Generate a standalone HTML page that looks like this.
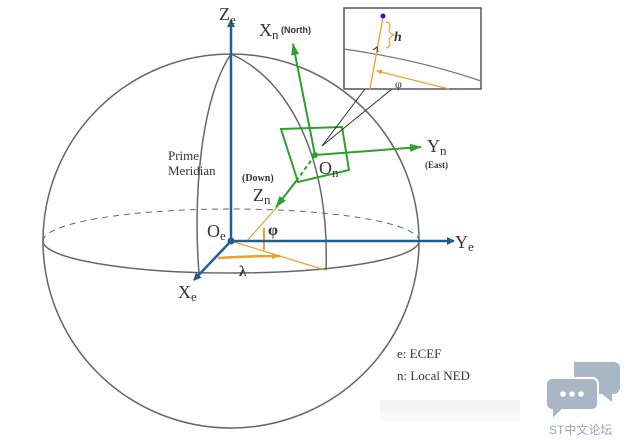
<!DOCTYPE html><html><head><style>body{margin:0;background:#fff}svg{display:block}text{font-family:"Liberation Serif",serif;fill:#333}</style></head><body>
<svg width="626" height="441" viewBox="0 0 626 441">
<defs>
<marker id="b" markerWidth="8" markerHeight="8" refX="7" refY="4" orient="auto" markerUnits="userSpaceOnUse"><path d="M0,0L8,4L0,8z" fill="#1f6090"/></marker>
<marker id="g" markerWidth="12" markerHeight="8" refX="11" refY="4" orient="auto" markerUnits="userSpaceOnUse"><path d="M0,0L12,4L0,8z" fill="#2ca02c"/></marker>
<marker id="o" markerWidth="9" markerHeight="6" refX="8" refY="3" orient="auto" markerUnits="userSpaceOnUse"><path d="M0,0L9,3L0,6z" fill="#e8a030"/></marker>
<marker id="o2" markerWidth="6" markerHeight="5" refX="5" refY="2.5" orient="auto" markerUnits="userSpaceOnUse"><path d="M0,0L6,2.5L0,5z" fill="#e8a030"/></marker>
</defs>
<g fill="none" stroke="#666" stroke-width="1.5">
<ellipse cx="231" cy="241" rx="188" ry="187"/>
<path d="M43,241 A188,32 0 0 0 419,241"/>
<path d="M43,241 A188,32 0 0 1 419,241" stroke-dasharray="6,5" stroke-width="1"/>
<path d="M231,54 C200,100 193,200 199,273"/>
<path d="M231,54 C290,80 330,160 326,270"/>
</g>
<g stroke="#e8a030" fill="none">
<line x1="231" y1="241" x2="325" y2="270" stroke-width="1.2"/>
<line x1="246" y1="242" x2="278" y2="206" stroke-width="1.2"/>
<line x1="264" y1="228" x2="264" y2="250" stroke-width="2"/>
<path d="M218,258 Q250,256 280,256" stroke-width="2.5" marker-end="url(#o)"/>
</g>
<g stroke="#1f6090" stroke-width="2.5">
<line x1="231" y1="241" x2="231" y2="20" marker-end="url(#b)"/>
<line x1="231" y1="241" x2="454" y2="241" marker-end="url(#b)"/>
<line x1="231" y1="241" x2="194" y2="280" marker-end="url(#b)"/>
</g>
<circle cx="231" cy="241" r="3.5" fill="#1f6090"/>
<g stroke="#2ca02c" stroke-width="2" fill="none">
<path d="M281,129 L342,127 L349,170 L298,182 Z"/>
<line x1="315" y1="155" x2="293" y2="44" marker-end="url(#g)"/>
<line x1="315" y1="155" x2="421" y2="147" marker-end="url(#g)"/>
<line x1="315" y1="155" x2="297" y2="180" stroke-dasharray="4,3"/>
<line x1="297" y1="180" x2="276" y2="207" marker-end="url(#g)"/>
</g>
<circle cx="315" cy="155" r="3" fill="#2ca02c"/>
<g stroke="#333" stroke-width="1" fill="none">
<path d="M365,89 L322,146 L392,89"/>
</g>
<rect x="344" y="8" width="137" height="81" fill="#fff" stroke="#555" stroke-width="1.5"/>
<path d="M344,49 Q420,60 481,81" stroke="#777" fill="none" stroke-width="1.2"/>
<line x1="383" y1="17" x2="370" y2="89" stroke="#e8a030" stroke-width="1.3"/>
<line x1="449" y1="89" x2="377" y2="71" stroke="#e8a030" stroke-width="1.2" marker-end="url(#o2)"/>
<path d="M386,22 Q392,22 389,30 Q389,33 394,35 Q389,37 389,40 Q392,47 386,48" stroke="#e8a030" fill="none" stroke-width="1.2"/>
<path d="M373,50 L377,47 L378,52" stroke="#333" fill="none" stroke-width="1"/>
<circle cx="383" cy="16" r="2.5" fill="#1520d0"/>
<text x="394" y="41" font-size="14" font-style="italic" font-weight="bold">h</text>
<text x="395" y="88" font-size="12">φ</text>
<text x="219" y="20" font-size="18">Z<tspan font-size="13" dy="4">e</tspan></text>
<text x="259" y="36" font-size="18">X<tspan font-size="13" dy="3">n</tspan><tspan font-family="Liberation Sans" font-size="9" font-weight="bold" dy="-6"> (North)</tspan></text>
<text x="427" y="152" font-size="18">Y<tspan font-size="13" dy="3">n</tspan></text>
<text x="425" y="168" font-size="9" font-weight="bold" font-family="Liberation Sans">(East)</text>
<text x="319" y="174" font-size="18">O<tspan font-size="13" dy="3">n</tspan></text>
<text x="242" y="181" font-size="10" font-weight="bold">(Down)</text>
<text x="253" y="201" font-size="18">Z<tspan font-size="13" dy="3">n</tspan></text>
<text x="168" y="160" font-size="13">Prime</text>
<text x="168" y="175" font-size="13">Meridian</text>
<text x="207" y="237" font-size="18">O<tspan font-size="13" dy="3">e</tspan></text>
<text x="268" y="235" font-size="16" font-weight="bold">φ</text>
<text x="455" y="248" font-size="18">Y<tspan font-size="13" dy="3">e</tspan></text>
<text x="178" y="298" font-size="18">X<tspan font-size="13" dy="3">e</tspan></text>
<text x="239" y="276" font-size="15" font-weight="bold">λ</text>
<text x="397" y="358" font-size="13">e: ECEF</text>
<text x="397" y="380" font-size="13">n: Local NED</text>
<rect x="380" y="400" width="140" height="12" fill="#f4f4f4"/>
<rect x="380" y="412" width="140" height="9" fill="#f9f9f9"/>
<path d="M574,362 h40 a6,6 0 0 1 6,6 v20 a6,6 0 0 1 -6,6 h-2 l0,8 l-10,-8 h-28z" fill="#a9b6c6"/>
<path d="M552,378 h40 a6,6 0 0 1 6,6 v20 a6,6 0 0 1 -6,6 h-30 l-10,10 l0,-10 a6,6 0 0 1 -6,-6 v-20 a6,6 0 0 1 6,-6z" fill="#a9b6c6" stroke="#fff" stroke-width="2"/>
<circle cx="563" cy="394" r="2.8" fill="#fff"/><circle cx="572" cy="394" r="2.8" fill="#fff"/><circle cx="581" cy="394" r="2.8" fill="#fff"/>
<text x="549" y="434" font-size="12" style="fill:#9aa6b4;font-family:'Liberation Sans','Noto Sans CJK SC',sans-serif">ST中文论坛</text>
</svg></body></html>
